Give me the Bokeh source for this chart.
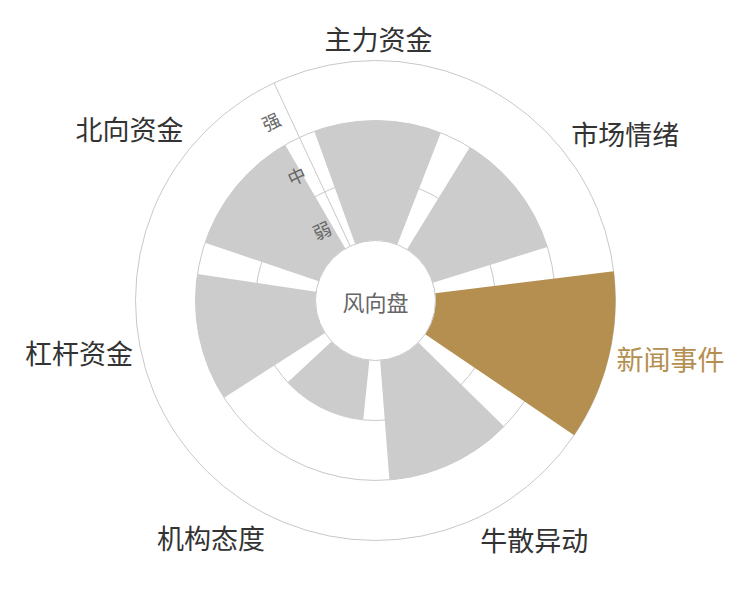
import numpy as np
from bokeh.plotting import figure
from bokeh.models import Range1d, ColumnDataSource
from bokeh.core.properties import value
from bokeh.embed import file_html
from bokeh.resources import INLINE

# ---- data ----
categories = ["主力资金", "市场情绪", "新闻事件", "牛散异动", "机构态度", "杠杆资金", "北向资金"]
levels = ["弱", "中", "强"]
values = [2, 2, 3, 2, 1, 2, 2]          # number of levels reached (弱 = 1, 中 = 2, 强 = 3)
highlight = "新闻事件"
center_label = "风向盘"

# ---- polar geometry ----
FONT = "Noto Sans CJK SC"
start_angle = 115.0          # degrees, where radial axis sits
inner_r = 60.0
band_r = 60.0                # radial width of one level band
outer_r = inner_r + band_r * len(levels)
n = len(categories)
band_a = 360.0 / n
bar_frac = 0.8

cat_center = start_angle - band_a / 2 - np.arange(n) * band_a
half = band_a * bar_frac / 2
bar_outer = [inner_r + band_r * v for v in values]
gold = "#b58f50"
gray_bar = "#cccccc"
grid = "#c8c8c8"

p = figure(width=734, height=584, x_range=Range1d(-375, 359), y_range=Range1d(-284, 300),
           output_backend="svg", toolbar_location=None, min_border=0, match_aspect=False)
p.axis.visible = False
p.grid.visible = False
p.outline_line_color = None
p.background_fill_color = "white"
p.border_fill_color = "white"

# split circles
split_r = [inner_r + band_r * (i + 1) for i in range(len(levels))]
p.circle(x=[0] * len(split_r), y=[0] * len(split_r), radius=split_r,
         fill_color=None, line_color=grid, line_width=1)

# radial axis line
sa = np.deg2rad(start_angle)
p.segment(x0=[inner_r * np.cos(sa)], y0=[inner_r * np.sin(sa)],
          x1=[outer_r * np.cos(sa)], y1=[outer_r * np.sin(sa)],
          line_color=grid, line_width=1)

# bars
colors = [gold if c == highlight else gray_bar for c in categories]
bars = ColumnDataSource(dict(
    x=[0] * n, y=[0] * n,
    r1=bar_outer,
    a0=list(np.deg2rad(cat_center - half)), a1=list(np.deg2rad(cat_center + half)),
    color=colors))
p.annular_wedge(x="x", y="y", inner_radius=inner_r, outer_radius="r1",
                start_angle="a0", end_angle="a1",
                fill_color="color", line_color=None, source=bars)

# inner circle
p.circle(x=[0], y=[0], radius=[inner_r], fill_color="white", line_color=grid, line_width=1)

# center label
p.text(x=[0], y=[0], text=[center_label], text_font=value(FONT), text_font_size="22px",
       text_color="#666666", text_align="center", text_baseline="middle")

# angle axis labels (ECharts-like alignment)
lab_r = outer_r + 8
tight = 5   # text box of the reference is tighter than bokeh's bottom/top box
lx, ly, aligns, bases, tcol = [], [], [], [], []
for c, a in zip(categories, cat_center):
    ar = np.deg2rad(a)
    x, y = lab_r * np.cos(ar), lab_r * np.sin(ar)
    al = "center" if abs(x) / lab_r < 0.3 else ("left" if x > 0 else "right")
    bl = "middle" if abs(y) / lab_r < 0.3 else ("bottom" if y > 0 else "top")
    if bl == "bottom":
        y -= tight
    elif bl == "top":
        y += tight
    lx.append(x); ly.append(y); aligns.append(al); bases.append(bl)
    tcol.append(gold if c == highlight else "#333333")
p.text(x=lx, y=ly, text=categories, text_font=value(FONT), text_font_size="27px",
       text_color=tcol, text_align=aligns, text_baseline=bases)

# radial axis labels
perp = np.deg2rad(start_angle + 90)
rx, ry = [], []
for i in range(len(levels)):
    rr = inner_r + band_r * (i + 0.5) - 3
    rx.append(rr * np.cos(sa) + 19 * np.cos(perp))
    ry.append(rr * np.sin(sa) + 19 * np.sin(perp))
p.text(x=rx, y=ry, text=levels, text_font=value(FONT), text_font_size="18px",
       text_color="#666666", text_align="center", text_baseline="middle",
       angle=float(np.deg2rad(start_angle - 90)))

open("out.html", "w").write(file_html(p, INLINE))
